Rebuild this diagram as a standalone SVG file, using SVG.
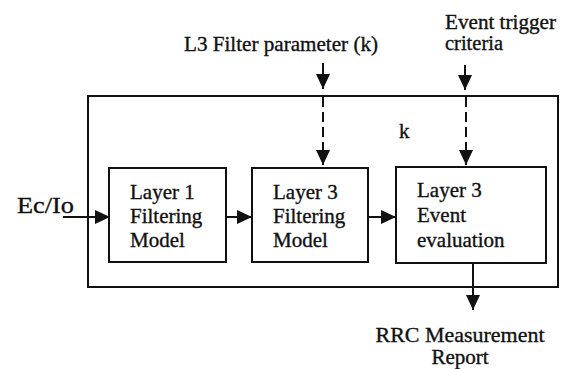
<svg xmlns="http://www.w3.org/2000/svg" width="565" height="369" viewBox="0 0 565 369">
  <style>
    .box { fill: none; stroke: #111; stroke-width: 2; }
    .wire { fill: none; stroke: #111; stroke-width: 2; }
    .dash { stroke-dasharray: 10 5; }
    .lbl { font-family: 'Liberation Serif', 'Times New Roman', serif; font-size: 21px; fill: #111; }
    .lbl text { stroke: #111; stroke-width: 0.35; }
    .big { font-size: 24px; }
    .tight { font-size: 20px; }
  </style>
  <defs>
    <marker id="head" markerUnits="userSpaceOnUse" markerWidth="15" markerHeight="14" refX="15" refY="7" orient="auto">
      <path d="M0,0 L15,7 L0,14 z" fill="#111"/>
    </marker>
  </defs>
  <rect width="565" height="369" fill="#fff"/>

  <!-- enclosing measurement block -->
  <rect id="container" class="box" x="88" y="96" width="470" height="191"/>

  <g id="layer1-filter" class="lbl" font-family="Liberation Serif, serif">
    <rect class="box" x="109" y="168" width="117" height="94"/>
    <text x="130" y="199">Layer 1</text>
    <text x="130" y="223">Filtering</text>
    <text x="130" y="247">Model</text>
  </g>

  <g id="layer3-filter" class="lbl" font-family="Liberation Serif, serif">
    <rect class="box" x="252" y="168" width="116" height="94"/>
    <text x="273" y="199">Layer 3</text>
    <text x="273" y="223">Filtering</text>
    <text x="273" y="247">Model</text>
  </g>

  <g id="layer3-event" class="lbl" font-family="Liberation Serif, serif">
    <rect class="box" x="396" y="167" width="150" height="96"/>
    <text x="417" y="197">Layer 3</text>
    <text x="417" y="222">Event</text>
    <text x="417" y="247">evaluation</text>
  </g>

  <g id="labels" class="lbl" font-family="Liberation Serif, serif">
    <text x="184" y="51" textLength="194" lengthAdjust="spacingAndGlyphs">L3 Filter parameter (k)</text>
    <text class="tight" x="445" y="29" textLength="111" lengthAdjust="spacingAndGlyphs">Event trigger</text>
    <text class="tight" x="445" y="50" textLength="58" lengthAdjust="spacingAndGlyphs">criteria</text>
    <text x="399" y="138">k</text>
    <text class="big" x="17" y="213" textLength="57" lengthAdjust="spacingAndGlyphs">Ec/Io</text>
    <text x="460" y="342" text-anchor="middle" textLength="169" lengthAdjust="spacingAndGlyphs">RRC Measurement</text>
    <text x="460" y="364" text-anchor="middle">Report</text>
  </g>

  <g id="connectors">
    <line class="wire" x1="63" y1="217" x2="110" y2="217" marker-end="url(#head)"/>
    <line class="wire" x1="227" y1="217" x2="252" y2="217" marker-end="url(#head)"/>
    <line class="wire" x1="369" y1="217" x2="396" y2="217" marker-end="url(#head)"/>
    <line class="wire" x1="323" y1="63" x2="323" y2="89" marker-end="url(#head)"/>
    <line class="wire dash" x1="323" y1="97" x2="323" y2="165" marker-end="url(#head)"/>
    <line class="wire" x1="465" y1="65" x2="465" y2="90" marker-end="url(#head)"/>
    <line class="wire dash" x1="466" y1="97" x2="466" y2="165" marker-end="url(#head)"/>
    <line class="wire" x1="473" y1="263" x2="473" y2="310" marker-end="url(#head)"/>
  </g>
</svg>
